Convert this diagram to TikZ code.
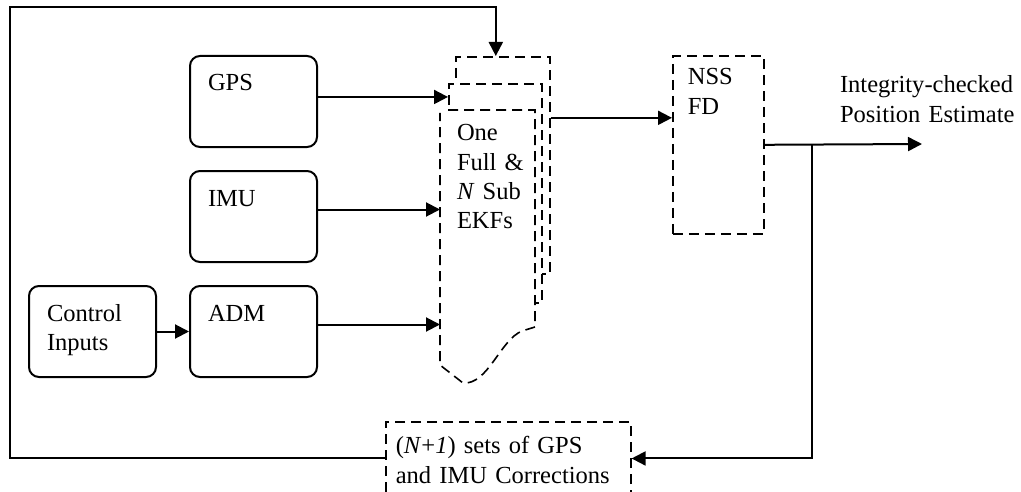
\documentclass[tikz,border=0pt]{standalone}
\usepackage{fontspec}
\setmainfont{Liberation Serif}
\usetikzlibrary{arrows.meta,positioning}

\begin{document}
\begin{tikzpicture}[x=0.75pt,y=-0.75pt,node distance=86.25pt,on grid,line width=1.5pt,
    >={Triangle[length=10.5pt,width=10.5pt]},
    every node/.style={font=\fontsize{18.4}{22}\selectfont},
    box/.style={draw,rounded corners=7.5pt,align=left,text width=68.25pt,
      inner xsep=13.5pt,inner ysep=0pt,text height=26.25pt,text depth=42pt},
    dbox/.style={draw,line width=1.2pt,dash pattern=on 7.5pt off 4.5pt},
    txt/.style={align=left,inner ysep=0pt,anchor=north west}]
    \useasboundingbox (0,0) rectangle (1021,492);

    % inputs
    \node[box] (gps) at (253.5,101.5) {GPS};
    \node[box] (imu) [below=of gps] {IMU};
    \node[box] (adm) [below=of imu] {ADM};
    \node[box] (ctrl) [left=120.75pt of adm] {Control\\Inputs};

    % filter bank
    \node[dbox,fill=white,minimum width=70.5pt,minimum height=162.75pt,anchor=north west] (ekfback) at (455,56) {};
    \node[dbox,fill=white,minimum width=69.75pt,minimum height=164.25pt,anchor=north west] (ekfmid) at (448,83) {};
    \draw[dbox,fill=white] (448,110) -- (535,110) -- (535,327) -- (522,331)
        .. controls (500,340) and (488,385) .. (463,383) -- (440,365) -- (440,113);
    \node[txt,text width=47.25pt,inner xsep=12pt,text height=22.5pt,text depth=140.25pt] (ekf) at (440,110)
        {One\\Full~\&\\\textit{N}~Sub\\EKFs};

    % fault detection and corrections
    \node[dbox,txt,text width=45.75pt,inner xsep=11.25pt,text height=21.75pt,text depth=111.75pt] (nss) at (672,55) {NSS\\FD};
    \node[dbox,txt,text width=168.75pt,inner xsep=7.5pt,text height=24pt,text depth=31pt] (corr) at (385,421)
        {(\textit{N}+\textit{1}) sets of GPS\\and IMU Corrections};
    \node[txt,anchor=base west,text width=140pt,inner xsep=0pt] (outlbl) at (839,93) {Integrity-checked\\Position Estimate};

    \coordinate (out) at (922,144);
    \coordinate (split) at (812,144);
    \coordinate (corner) at (10,7.5);

    \draw[->] (ctrl) -- (adm);
    \draw[->] ([yshift=3.4pt]gps.east) -- ([yshift=3.4pt]gps.east -| ekfmid.west);
    \draw[->] ([yshift=5.25pt]imu.east) -- ([yshift=5.25pt]imu.east -| ekf.west);
    \draw[->] ([yshift=5.25pt]adm.east) -- ([yshift=5.25pt]adm.east -| ekf.west);
    \draw[->] ([yshift=35.6pt]ekfback.east) -- ([yshift=35.6pt]ekfback.east -| nss.west);
    \draw[->] (nss.east) -- (out);
    \draw[->] (split) |- (corr.east);
    \draw[->] (corr.west) -| (corner) -| ([xshift=-5.25pt]ekfback.north);
\end{tikzpicture}
\end{document}
